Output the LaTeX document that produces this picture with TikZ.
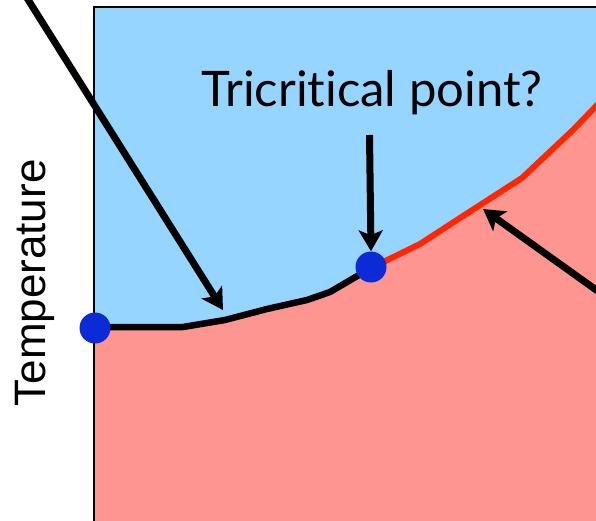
\documentclass[tikz,border=0pt]{standalone}
\usepackage{fontspec}
\setmainfont{Liberation Sans}
\newfontfamily\labelfont[Ligatures={NoCommon,NoRare,NoDiscretionary}]{Lato}
\usetikzlibrary{arrows.meta}
\definecolor{skyfill}{HTML}{96D5FF}
\definecolor{warmfill}{HTML}{FF9591}
\definecolor{hotline}{HTML}{FF2600}
\definecolor{dotblue}{HTML}{0A2BD6}
\tikzset{
  pointer/.style={line width=7pt,-{Stealth[length=21pt,width=24pt,inset=5pt]}},
  critdot/.style={circle,fill=dotblue,inner sep=0pt,minimum size=31pt},
}
\begin{document}
\begin{tikzpicture}[x=1pt,y=-1pt]
\useasboundingbox (0,0) rectangle (596,521);
\begin{scope}
\clip (0,0) rectangle (596,521);
% blue region
\fill[skyfill] (94,7) rectangle (620,540);
% red region
\fill[warmfill] (94,328) -- (110,327) -- (183,327) -- (225,320) -- (267,309) -- (307,300) -- (330,292) -- (371,268)
  -- (420,244) -- (460,218) -- (522,178) -- (573,130) -- (600,102) -- (620,80) -- (620,540) -- (94,540) -- cycle;
% frame
\draw[line width=1.8pt] (94,540) -- (94,7) -- (620,7);
% phase boundary
\draw[line width=6.5pt,line join=round] (95,328) -- (110,327) -- (183,327) -- (225,320) -- (267,309) -- (307,300) -- (330,292) -- (371,268);
\draw[hotline,line width=6pt,line join=round] (371,268) -- (420,244) -- (460,218) -- (522,178) -- (573,130) -- (600,102) -- (620,80);
% nodes
\node[critdot] (p1) at (95,328) {};
\node[critdot] (p2) at (371,267) {};
\node[anchor=base,inner sep=0pt,font=\labelfont\fontsize{49}{58}\selectfont] (tri) at (372,107) {Tricritical point?};
\node[rotate=90,font=\fontsize{44}{52}\selectfont] (temp) at (35,283) {Temperature};
% arrows
\coordinate (la) at (22,-10);
\coordinate (lt) at (223,310);
\coordinate (ra) at (620,307);
\coordinate (rt) at (483,209);
\coordinate (ds) at (369.5,135);
\draw[pointer] (la) -- (lt);
\draw[pointer] (ra) -- (rt);
\draw[pointer] (ds) -- (p2.north);
\end{scope}
\end{tikzpicture}
\end{document}
